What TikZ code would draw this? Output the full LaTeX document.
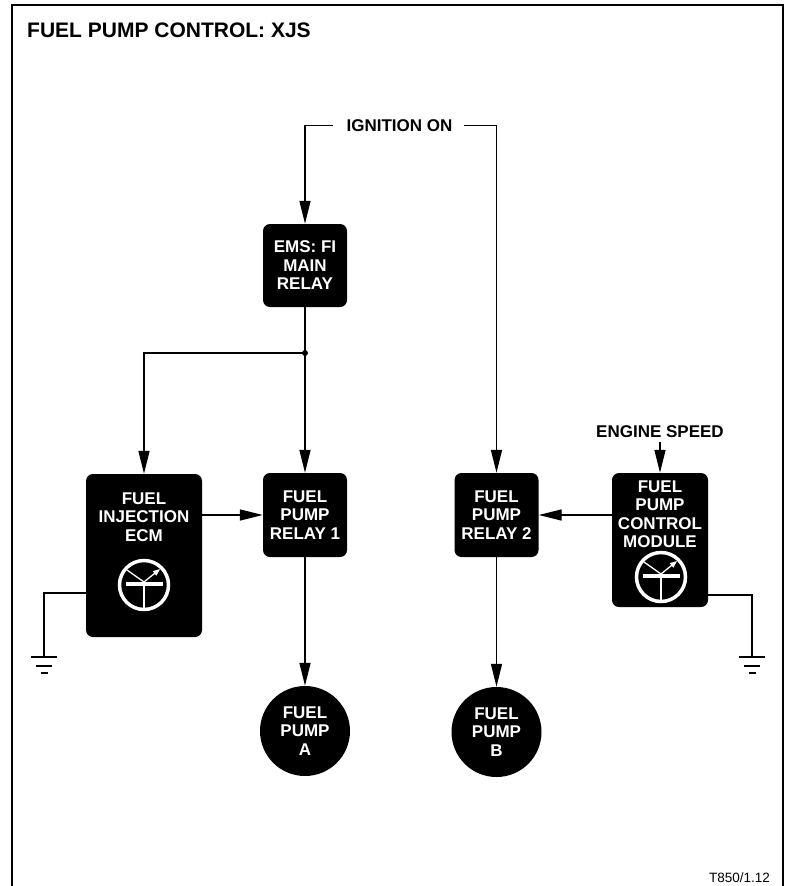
\documentclass[tikz,border=0pt]{standalone}
\usepackage{fontspec}
\setmainfont{Liberation Sans}
\usetikzlibrary{arrows.meta}
\newcommand\trsym[2]{%
  \begin{scope}[shift={(#1,#2)}]
    \draw[white,line width=3.5pt] (0,0) circle (24.5);
    \draw[white,line width=4pt] (-18.5,-1) -- (18.5,-1);
    \draw[white,line width=1.5pt] (0,-1) -- (0,24);
    \draw[white,line width=1.3pt] (0,-3) -- (-17,-15);
    \draw[white,line width=1.3pt,-{Triangle[length=7pt,width=5.5pt]}] (0,-3) -- (16,-16);
  \end{scope}}
\newcommand\gndsym[1]{%
  \draw[line width=1.3pt] ([xshift=-13pt]#1) -- ([xshift=13pt]#1);
  \draw[line width=1.3pt] ([xshift=-8pt,yshift=-9pt]#1) -- ([xshift=8pt,yshift=-9pt]#1);
  \draw[line width=1.3pt] ([xshift=-3.5pt,yshift=-16pt]#1) -- ([xshift=3.5pt,yshift=-16pt]#1);}
\begin{document}
\begin{tikzpicture}[x=1pt,y=-1pt,
  bfont/.style={font=\bfseries\fontsize{17}{18.5}\selectfont},
  box/.style={bfont, fill=black, rounded corners=7pt, inner sep=0pt, text=white, align=center},
  pumpc/.style={bfont, circle, fill=black, minimum size=90pt, inner sep=0pt, text=white, align=center},
  btext/.style={bfont, text=white, align=center, inner sep=0pt},
  lbl/.style={bfont, inner sep=0pt},
  wire/.style={line width=1.3pt},
  arr/.style={wire, -{Triangle[length=23pt,width=11pt]}}]
\useasboundingbox (0,0) rectangle (791,886);
\fill[white] (0,0) rectangle (791,886);
\draw[line width=2pt] (12,895) -- (12,5) -- (783,5) -- (783,895);

\node[lbl, font=\bfseries\fontsize{21}{24}\selectfont, anchor=base west] (title) at (27,37.3) {FUEL PUMP CONTROL: XJS};
\node[lbl] (ign) at (399.5,125.5) {IGNITION ON};
\node[lbl] (es) at (660,432) {ENGINE SPEED};
\node[font=\fontsize{13.5}{14}\selectfont, inner sep=0pt, anchor=base east] (ref) at (770,882) {T850/1.12};

\node[box, minimum width=84pt, minimum height=83pt] (ems) at (305,265.5) {EMS: FI\\MAIN\\RELAY};
\node[box, minimum width=84pt, minimum height=84pt] (r1) at (305,515) {FUEL\\PUMP\\RELAY 1};
\node[box, minimum width=84pt, minimum height=84pt] (r2) at (496.5,515) {FUEL\\PUMP\\RELAY 2};
\node[box, minimum width=116pt, minimum height=163pt] (ecm) at (144,555.5) {};
\node[btext, anchor=north] (ecmt) at (144,492.5) {FUEL\\INJECTION\\ECM};
\node[box, minimum width=96pt, minimum height=134pt] (fpcm) at (660,540) {};
\node[btext, anchor=north] (fpcmt) at (660,480.5) {FUEL\\PUMP\\CONTROL\\MODULE};
\trsym{144}{585}
\trsym{661}{577}

\node[pumpc] (pa) at (305,731) {FUEL\\PUMP\\A};
\node[pumpc] (pb) at (496.5,732) {FUEL\\PUMP\\B};

\coordinate (igL) at (333,125.5);
\coordinate (igR) at (464,125.5);
\draw[arr] (igL) -| (ems.north);
\draw[arr] (igR) -| (r2.north);

\coordinate (j) at (305,353);
\draw[wire] (ems.south) -- (j);
\draw[arr] (j) -- (r1.north);
\draw[arr] (j) -| (ecm.north);
\fill (j) circle (3);

\draw[arr] (ecm.east |- r1.west) -- (r1.west);
\draw[arr] (fpcm.west |- r2.east) -- (r2.east);
\draw[arr, shorten <=4pt] (es.south) -- (fpcm.north);
\draw[arr] (r1.south) -- (pa.north);
\draw[arr] (r2.south) -- (pb.north);

\coordinate (g1) at (44,657);
\coordinate (g2) at (752,657);
\draw[wire] ([yshift=-37.5pt]ecm.west) -| (g1);
\draw[wire] ([yshift=-55pt]fpcm.east) -| (g2);
\gndsym{g1}
\gndsym{g2}
\end{tikzpicture}
\end{document}
